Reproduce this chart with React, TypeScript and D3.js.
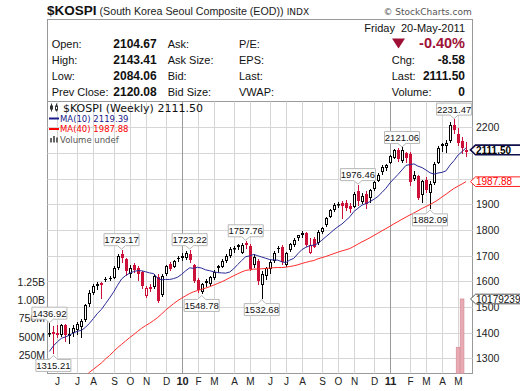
import React from 'react';
import * as d3 from 'd3';

// ---------- DATA ----------
const weeks: Date[] = d3.timeFriday.range(new Date(2009, 4, 22), new Date(2011, 4, 21));

const opens = [1393,1404,1398,1392,1428,1386,1398,1410,1422,1449,1510,1555,1582,1592,1609,1612,1614,1652,1705,1685,
1628,1662,1650,1635,1542,1578,1577,1615,1547,1628,1668,1655,1690,1698,1690,1705,1664,1605,1560,1602,
1590,1614,1658,1655,1678,1698,1725,1740,1712,1748,1738,1665,1680,1585,1620,1648,1678,1728,1735,1665,
1722,1740,1768,1782,1788,1712,1765,1748,1793,1819,1850,1878,1896,1905,1905,1895,1890,1950,1908,1940,
1925,1958,1990,2025,2040,2060,2080,2113,2070,2100,2095,2000,2008,1935,1995,1945,1982,2060,2125,2128,
2145,2210,2172,2145,2104.67];
const highs = [1436.92,1425,1428,1433,1432,1418,1428,1440,1452,1512,1565,1590,1598,1596,1618,1622,1658,1705,1723.17,1690,
1662,1670,1660,1640,1582,1590,1630,1628,1630,1665,1675,1682,1697,1710,1717,1723.22,1668,1612,1595,1610,
1620,1645,1665,1685,1705,1732,1738,1745,1750,1757.76,1745,1705,1685,1640,1656,1682,1718,1738,1740,1715,
1750,1768,1782,1795,1792,1768,1772,1798,1810,1850,1880,1905,1910,1912,1915,1905,1948,1976.46,1945,1950,
1960,1993,2020,2052,2057,2092,2115,2118,2121.06,2105,2105,2030,2015,1995,2005,1990,2065,2125,2140,2150,
2220,2231.47,2195,2160,2143.41];
const lows = [1384,1315.21,1378,1385,1365,1355,1385,1390,1380,1440,1500,1545,1565,1530,1598,1600,1608,1645,1672,1620,
1612,1632,1600,1570,1535,1560,1570,1515,1540,1620,1640,1650,1675,1680,1682,1670,1595,1555,1548.78,1578,
1580,1605,1631,1650,1672,1692,1712,1722,1705,1725,1640,1650,1585,1532.68,1605,1630,1672,1710,1665,1655,
1715,1733,1758,1770,1735,1708,1728,1740,1785,1812,1845,1870,1885,1842,1875,1865,1885,1895,1900,1880,
1905,1950,1985,2015,2030,2055,2075,2065,2062,2060,1970,1990,1915,1905,1945,1882.09,1975,2055,2105,2100,
2138,2175,2125,2095,2084.06];
const closes = [1397,1395,1392,1430,1390,1395,1420,1432,1447,1508,1556,1583,1590,1586,1610,1613,1650,1700,1690,1642,
1650,1645,1630,1580,1572,1569,1620,1525,1622,1660,1648,1678,1685,1692,1709,1684,1602,1567,1588,1592,
1615,1638,1652,1680,1700,1727,1729,1733,1743,1741,1647,1695,1600,1630,1650,1677,1712,1730,1677,1710,
1745,1762,1780,1788,1742,1740,1735,1792,1806,1845,1876,1898,1902,1892,1885,1882,1941,1914,1932,1902,
1955,1988,2014,2045,2051,2086,2110,2075,2110,2080,1985,2015,1925,1990,1955,1980,2058,2118,2135,2140,
2210,2190,2140,2120.08,2111.50];
// 39 weekly closes before the first visible week (for the moving averages)
const priorCloses = [1530,1474,1406,1477,1468,1502,1419,1241,1180,938.75,1113,1100,1088,1003,1076,1034,1103,1171,1120,1124,
1180,1123,1093,1162,1197,1190,1065,1063,1072,1126,1178,1230,1297,1336,1327,1330,1369,1412,1392];
// volume only reported for the final weeks
const volumeTail = [357000000, 1017923968, 0];

const priceTicks = [1300,1400,1500,1600,1700,1800,1900,2000,2100,2200];
const volumeTicks = [250e6, 500e6, 750e6, 1e9, 1.25e9];
const volumeTickLabels = ['250M','500M','750M','1.00B','1.25B'];
const monthLetters = ['J','F','M','A','M','J','J','A','S','O','N','D'];
const callouts: {i:number; type:'high'|'low'}[] = [
  {i:0,type:'high'},{i:1,type:'low'},{i:18,type:'high'},{i:35,type:'high'},{i:38,type:'low'},
  {i:49,type:'high'},{i:53,type:'low'},{i:77,type:'high'},{i:88,type:'high'},{i:95,type:'low'},{i:101,type:'high'}];
const ma10Last = 2119.39, ma40Last = 1987.88;

const quoteLeft = [['Open:','2104.67'],['High:','2143.41'],['Low:','2084.06'],['Prev Close:','2120.08']];
const quoteMid = ['Ask:','Ask Size:','Bid:','Bid Size:'];
const quoteMid2 = ['P/E:','EPS:','Last:','VWAP:'];
const quoteRight = [['Chg:','-8.58'],['Last:','2111.50'],['Volume:','0']];

// ---------- LAYOUT ----------
const W = 520, H = 391;
const L = 47.5, R = 472.5, T = 101.5, B = 373.5;
const SANS = "'Liberation Sans', Arial, sans-serif";
const DEJA = "'DejaVu Sans', Verdana, sans-serif";
const RED = '#cc1038';
const NAVY = '#2a2a96';
const MARED = '#ff2a2a';

export default function App() {
  const N = closes.length;
  const keys = weeks.slice(0, N).map((d, i) => i);
  const x = d3.scalePoint<number>().domain(keys).range([49.4, 466.1]);
  const y = d3.scaleLinear().domain([1241, 2300]).range([B, T]);
  const yv = d3.scaleLinear().domain([0, 1.25e9]).range([B, 282]);

  const all = priorCloses.concat(closes);
  const P = priorCloses.length;
  const ma = (n: number) => closes.map((_, i) => d3.mean(all.slice(P + i - n + 1, P + i + 1)) as number);
  const ma10 = ma(10), ma40 = ma(40);
  const line = d3.line<number>().x((_, i) => x(i)!).y(v => y(v));

  // month boundaries: week whose Monday falls in a new month
  const monday = (d: Date) => d3.timeDay.offset(d, -4);
  const months: {i:number; label:string; year:boolean}[] = [];
  for (let i = 1; i < N; i++) {
    const m0 = monday(weeks[i - 1]).getMonth(), m1 = monday(weeks[i]).getMonth();
    if (m0 !== m1) {
      const yr = m1 === 0;
      months.push({ i, label: yr ? String(monday(weeks[i]).getFullYear()).slice(2) : monthLetters[m1], year: yr });
    }
  }

  const candles = closes.map((c, i) => {
    const o = opens[i];
    const prev = i === 0 ? priorCloses[P - 1] : closes[i - 1];
    const col = c < prev ? RED : '#000';
    const px = Math.round(x(i)!);
    const yt = Math.round(y(Math.max(o, c)));
    const yb = Math.round(y(Math.min(o, c)));
    const yh = Math.round(y(highs[i]));
    const yl = Math.round(y(lows[i]));
    const hollow = c >= o;
    return (
      <g key={i}>
        <line x1={px + 0.5} x2={px + 0.5} y1={yh} y2={yl} stroke={col} strokeWidth={1} />
        {yb - yt < 1 ? (
          <line x1={px - 1} x2={px + 2} y1={yt + 0.5} y2={yt + 0.5} stroke={col} />
        ) : hollow ? (
          <rect x={px - 0.5} y={yt + 0.5} width={2} height={Math.max(yb - yt - 1, 0.5)} fill="#fff" stroke={col} strokeWidth={1} />
        ) : (
          <rect x={px - 1} y={yt} width={3} height={yb - yt} fill={col} />
        )}
      </g>
    );
  });

  const vols = volumeTail.map((v, k) => {
    const i = N - volumeTail.length + k;
    if (!v) return null;
    const cx = x(i)!;
    return <rect key={'v' + k} x={cx - 1.8} y={yv(v)} width={3.6} height={B - yv(v)} fill="#e8aab3" stroke="#d9909b" strokeWidth={0.8} />;
  });

  const calloutEls = callouts.map(({ i, type }, k) => {
    const cx = x(i)!;
    const v = type === 'high' ? highs[i] : lows[i];
    const vy = y(v);
    const w = 35, h = 12, l = cx - w / 2, r = cx + w / 2;
    let d: string, ty: number;
    if (type === 'high') {
      const bot = vy - 4, top = bot - h;
      d = `M${l},${top}H${r}V${bot}H${cx + 4}L${cx},${vy - 0.5}L${cx - 4},${bot}H${l}Z`;
      ty = top + 9.5;
    } else {
      const top = vy + 5, bot = top + h;
      d = `M${l},${top}H${cx - 4}L${cx},${vy + 1}L${cx + 4},${top}H${r}V${bot}H${l}Z`;
      ty = top + 9.5;
    }
    return (
      <g key={'c' + k}>
        <path d={d} fill="#fff" stroke="#b8b8b8" strokeWidth={1} />
        <text x={cx} y={ty} textAnchor="middle" fontFamily={SANS} fontSize={9.5} fill="#111">{v.toFixed(2)}</text>
      </g>
    );
  });

  const lastVol = volumeTail[1];
  const tags = [
    { yy: y(ma40Last), stroke: '#ff2020', sw: 1, text: ma40Last.toFixed(2), color: '#ff0000', bold: false },
    { yy: y(closes[N - 1]), stroke: '#10104a', sw: 1.6, text: closes[N - 1].toFixed(2), color: '#000', bold: true },
    { yy: yv(lastVol), stroke: '#555', sw: 1, text: String(lastVol), color: '#111', bold: false },
  ];
  // axis labels fully covered by a tag are not drawn (they are hidden in the original)
  const visibleTicks = priceTicks.filter(p => tags.every(t => Math.abs(y(p) - t.yy) > 7));

  return (
    <svg width={W} height={H} style={{ position: 'absolute', left: 0, top: 0, background: '#fff' }}>
      <defs>
        <clipPath id="plot"><rect x={L} y={T} width={R - L} height={B - T} /></clipPath>
      </defs>
      <rect x={0} y={0} width={W} height={H} fill="#fff" />
      {/* title */}
      <text x={47} y={15} fontFamily={SANS} fontSize={13.5} fontWeight="bold" fill="#111">$KOSPI</text>
      <text x={99.5} y={15} fontFamily={SANS} fontSize={10.7} fill="#222">(South Korea Seoul Composite (EOD))</text>
      <text x={286.7} y={15} fontFamily={DEJA} fontSize={9} fill="#222">INDX</text>
      <text x={471.7} y={15} textAnchor="end" fontFamily={DEJA} fontSize={9} fill="#555">© StockCharts.com</text>

      {/* frame */}
      <rect x={L} y={19.5} width={R - L} height={B - 19.5} fill="none" stroke="#999" />
      <line x1={L} x2={R} y1={T} y2={T} stroke="#999" />

      {/* quote block */}
      <text x={465} y={32} textAnchor="end" fontFamily={SANS} fontSize={11} fill="#111" style={{ whiteSpace: 'pre' }}>Friday  20-May-2011</text>
      {quoteLeft.map(([lab, val], k) => (
        <g key={'ql' + k}>
          <text x={51.7} y={48 + k * 16} fontFamily={SANS} fontSize={11} fill="#111">{lab}</text>
          <text x={156.7} y={48 + k * 16} textAnchor="end" fontFamily={SANS} fontSize={12} fontWeight="bold" fill="#111">{val}</text>
        </g>
      ))}
      {quoteMid.map((lab, k) => (
        <text key={'qm' + k} x={167.7} y={48 + k * 16} fontFamily={SANS} fontSize={11} fill="#111">{lab}</text>
      ))}
      {quoteMid2.map((lab, k) => (
        <text key={'qn' + k} x={239} y={48 + k * 16} fontFamily={SANS} fontSize={11} fill="#111">{lab}</text>
      ))}
      <path d="M392,38.5H405L398.5,48.5Z" fill="#9e1036" />
      <text x={465} y={48.3} textAnchor="end" fontFamily={SANS} fontSize={14.5} fontWeight="bold" fill="#9e1036">-0.40%</text>
      {quoteRight.map(([lab, val], k) => (
        <g key={'qr' + k}>
          <text x={391.7} y={64 + k * 16} fontFamily={SANS} fontSize={11} fill="#111">{lab}</text>
          <text x={465} y={64 + k * 16} textAnchor="end" fontFamily={SANS} fontSize={12} fontWeight="bold" fill="#111">{val}</text>
        </g>
      ))}

      {/* grid */}
      {priceTicks.map(p => (
        <line key={'h' + p} x1={L} x2={R} y1={Math.round(y(p)) + 0.5} y2={Math.round(y(p)) + 0.5} stroke="#d6d6d6" />
      ))}
      {months.map(m => (
        <line key={'m' + m.i} x1={Math.round(x(m.i)!) + 0.5} x2={Math.round(x(m.i)!) + 0.5} y1={T} y2={B} stroke={m.year ? '#9a9a9a' : '#d6d6d6'} />
      ))}

      {/* legend */}
      <g>
        <line x1={51.5} x2={51.5} y1={103.5} y2={111.5} stroke="#333" />
        <rect x={50} y={105.5} width={3} height={4} fill="#333" />
        <line x1={56.5} x2={56.5} y1={103.5} y2={111.5} stroke="#333" />
        <rect x={55.5} y={106} width={2} height={4} fill="#fff" stroke="#333" />
        <text x={63} y={111.5} fontFamily={DEJA} fontSize={11} fill="#111">$KOSPI (Weekly) 2111.50</text>
        <line x1={49} x2={59} y1={118.5} y2={118.5} stroke="#1a1a8a" strokeWidth={2} />
        <text x={60} y={121.7} fontFamily={DEJA} fontSize={8.5} fill="#1a1a8a">MA(10) {ma10Last.toFixed(2)}</text>
        <line x1={49} x2={59} y1={129} y2={129} stroke="#ff0000" strokeWidth={2} />
        <text x={60} y={132.3} fontFamily={DEJA} fontSize={8.5} fill="#ff0000">MA(40) {ma40Last.toFixed(2)}</text>
        <rect x={50} y={138} width={2} height={4.5} fill="#666" />
        <rect x={53} y={136} width={2} height={6.5} fill="#666" />
        <rect x={56} y={137.5} width={2} height={5} fill="#666" />
        <text x={60} y={142.5} fontFamily={DEJA} fontSize={8.5} fill="#555">Volume undef</text>
      </g>

      <g clipPath="url(#plot)">
        {vols}
        {candles}
        <path d={line(ma40) || ''} fill="none" stroke={MARED} strokeWidth={1} />
        <path d={line(ma10) || ''} fill="none" stroke={NAVY} strokeWidth={1} />
      </g>

      {/* axes labels */}
      {visibleTicks.map(p => (
        <text key={'pt' + p} x={476} y={y(p) + 4} fontFamily={SANS} fontSize={10.5} fill="#222">{p}</text>
      ))}
      {volumeTicks.map((v, k) => (
        <text key={'vt' + k} x={45} y={yv(v) + 3.8} textAnchor="end" fontFamily={SANS} fontSize={10.5} fill="#222">{volumeTickLabels[k]}</text>
      ))}
      {months.map(m => (
        <text key={'ml' + m.i} x={Math.round(x(m.i)!) + 0.5} y={385} textAnchor="middle" fontFamily={SANS}
          fontSize={m.year ? 11 : 10} fontWeight={m.year ? 'bold' : 'normal'} fill="#222">{m.label}</text>
      ))}

      {calloutEls}

      {tags.map((t, k) => (
        <g key={'t' + k}>
          <path d={`M470.5,${t.yy}L475.5,${t.yy - 4.8}H530V${t.yy + 4.8}H475.5Z`} fill="#fff" stroke={t.stroke} strokeWidth={t.sw} />
          <text x={476} y={t.yy + 3.6} fontFamily={SANS} fontSize={10} fontWeight={t.bold ? 'bold' : 'normal'} fill={t.color}>{t.text}</text>
        </g>
      ))}
    </svg>
  );
}
